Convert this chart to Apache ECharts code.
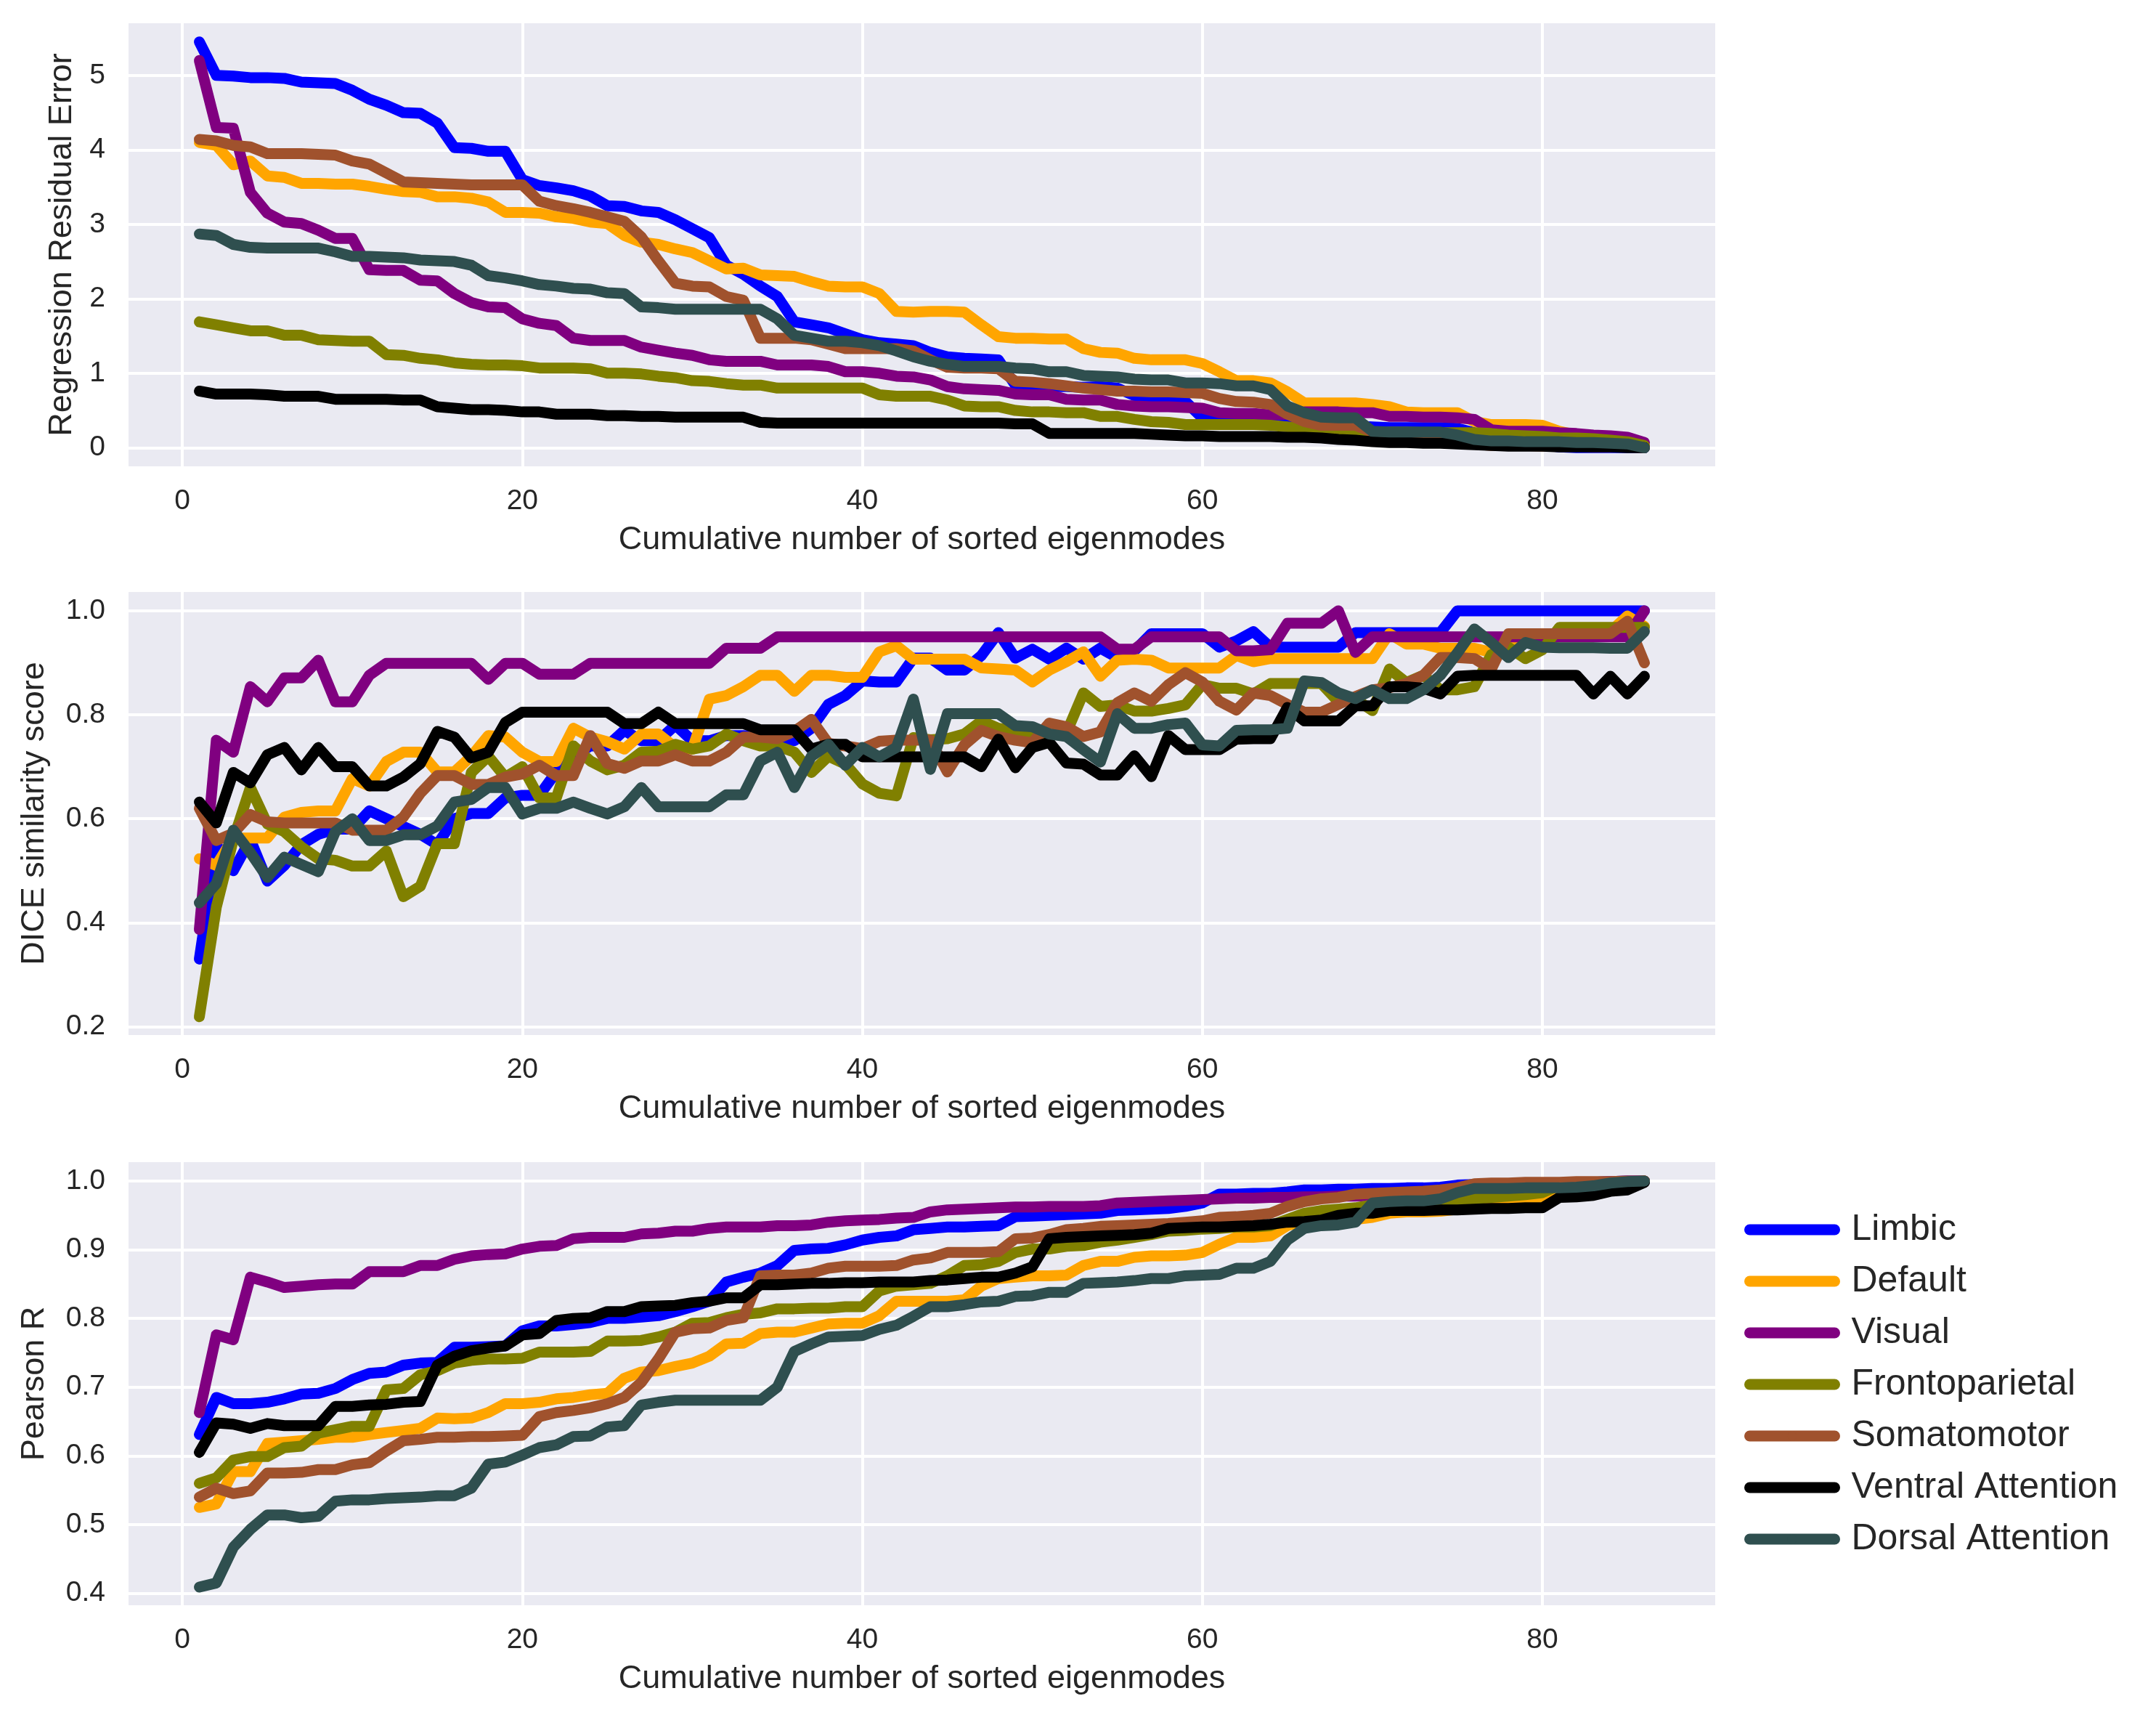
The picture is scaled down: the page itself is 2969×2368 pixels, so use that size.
<!DOCTYPE html>
<html>
<head>
<meta charset="utf-8">
<script src="https://cdn.jsdelivr.net/npm/echarts@6/dist/echarts.min.js"></script>
<style>
  html, body { margin: 0; padding: 0; background: #fff; }
  #chart { width: 2969px; height: 2368px; }
</style>
</head>
<body>
<div id="chart"></div>
<script>
// regions in legend order
const regionNames = ['Limbic', 'Default', 'Visual', 'Frontoparietal', 'Somatomotor', 'Ventral Attention', 'Dorsal Attention'];
const regionColors = ['#0000ff', '#ffa500', '#800080', '#808000', '#a0522d', '#000000', '#2f4f4f'];

// x: cumulative number of sorted eigenmodes (1..86)
const modes = [];
for (let i = 1; i <= 86; i++) modes.push(i);

// panel 1: regression residual error
const residualLimbic = [5.45,5.00,4.99,4.97,4.97,4.96,4.91,4.90,4.89,4.80, 4.68,4.60,4.50,4.49,4.36,4.03,4.02,3.98,3.98,3.60, 3.52,3.49,3.45,3.38,3.25,3.24,3.18,3.16,3.06,2.94, 2.82,2.45,2.33,2.17,2.03,1.69,1.65,1.61,1.53,1.45, 1.41,1.39,1.37,1.28,1.22,1.20,1.19,1.18,0.84,0.82, 0.82,0.82,0.81,0.82,0.80,0.70,0.63,0.62,0.62,0.40, 0.39,0.39,0.39,0.38,0.37,0.33,0.31,0.30,0.29,0.28, 0.27,0.27,0.27,0.27,0.26,0.20,0.15,0.12,0.08,0.04, 0.01,0.00,0.00,0.00,0.00,0.00];
const residualDefault = [4.10,4.06,3.80,3.85,3.65,3.63,3.55,3.55,3.54,3.54, 3.51,3.47,3.44,3.43,3.37,3.37,3.35,3.30,3.16,3.16, 3.15,3.10,3.08,3.03,3.01,2.85,2.76,2.73,2.67,2.62, 2.51,2.40,2.41,2.32,2.31,2.30,2.23,2.17,2.16,2.16, 2.07,1.83,1.82,1.83,1.83,1.82,1.65,1.49,1.47,1.47, 1.46,1.46,1.33,1.28,1.27,1.20,1.18,1.18,1.18,1.13, 1.02,0.90,0.90,0.87,0.75,0.60,0.60,0.60,0.60,0.58, 0.55,0.48,0.47,0.47,0.47,0.35,0.31,0.31,0.31,0.30, 0.22,0.17,0.13,0.10,0.06,0.02];
const residualVisual = [5.20,4.30,4.29,3.43,3.15,3.03,3.01,2.92,2.81,2.81, 2.39,2.38,2.38,2.25,2.24,2.07,1.95,1.89,1.88,1.73, 1.67,1.64,1.47,1.44,1.44,1.44,1.35,1.31,1.27,1.24, 1.18,1.16,1.16,1.16,1.11,1.11,1.11,1.09,1.02,1.02, 1.00,0.96,0.95,0.91,0.82,0.79,0.78,0.77,0.72,0.71, 0.71,0.65,0.64,0.64,0.58,0.56,0.55,0.55,0.54,0.53, 0.47,0.46,0.46,0.44,0.45,0.48,0.48,0.48,0.47,0.47, 0.42,0.42,0.41,0.41,0.40,0.38,0.24,0.22,0.22,0.22, 0.20,0.19,0.17,0.16,0.14,0.07];
const residualFronto = [1.69,1.65,1.61,1.57,1.57,1.51,1.51,1.45,1.44,1.43, 1.43,1.25,1.24,1.20,1.18,1.14,1.12,1.11,1.11,1.10, 1.07,1.07,1.07,1.06,1.00,1.00,0.99,0.96,0.94,0.90, 0.89,0.86,0.84,0.84,0.80,0.80,0.80,0.80,0.80,0.80, 0.71,0.69,0.69,0.69,0.64,0.56,0.55,0.55,0.50,0.48, 0.48,0.47,0.47,0.42,0.42,0.38,0.35,0.34,0.31,0.31, 0.31,0.31,0.31,0.30,0.28,0.25,0.22,0.21,0.21,0.21, 0.21,0.21,0.20,0.20,0.20,0.20,0.19,0.17,0.16,0.15, 0.13,0.13,0.12,0.10,0.08,0.03];
const residualSomato = [4.14,4.12,4.06,4.04,3.95,3.95,3.95,3.94,3.93,3.85, 3.81,3.69,3.57,3.56,3.55,3.54,3.53,3.53,3.53,3.53, 3.31,3.25,3.21,3.16,3.10,3.04,2.83,2.51,2.21,2.17, 2.16,2.03,1.98,1.47,1.47,1.47,1.45,1.39,1.33,1.33, 1.33,1.33,1.30,1.18,1.08,1.07,1.07,1.06,0.89,0.88, 0.86,0.83,0.80,0.78,0.76,0.76,0.75,0.75,0.74,0.73, 0.66,0.62,0.61,0.58,0.45,0.35,0.30,0.30,0.30,0.21, 0.19,0.17,0.15,0.13,0.09,0.05,0.03,0.03,0.03,0.02, 0.02,0.02,0.01,0.01,0.01,0.00];
const residualVentral = [0.76,0.72,0.72,0.72,0.71,0.69,0.69,0.69,0.65,0.65, 0.65,0.65,0.64,0.64,0.55,0.53,0.51,0.51,0.50,0.48, 0.48,0.45,0.45,0.45,0.43,0.43,0.42,0.42,0.41,0.41, 0.41,0.41,0.41,0.34,0.33,0.33,0.33,0.33,0.33,0.33, 0.33,0.33,0.33,0.33,0.33,0.33,0.33,0.33,0.32,0.32, 0.19,0.19,0.19,0.19,0.19,0.19,0.18,0.17,0.16,0.16, 0.15,0.15,0.15,0.15,0.14,0.14,0.13,0.11,0.10,0.08, 0.07,0.07,0.06,0.06,0.05,0.04,0.03,0.02,0.02,0.02, 0.01,0.01,0.01,0.01,0.00,0.00];
const residualDorsal = [2.87,2.85,2.73,2.69,2.68,2.68,2.68,2.68,2.63,2.57, 2.57,2.56,2.55,2.52,2.51,2.50,2.45,2.31,2.28,2.24, 2.19,2.17,2.14,2.13,2.08,2.07,1.89,1.88,1.86,1.86, 1.86,1.86,1.86,1.86,1.73,1.51,1.47,1.43,1.43,1.41, 1.37,1.30,1.22,1.16,1.12,1.09,1.09,1.09,1.07,1.06, 1.02,1.02,0.97,0.96,0.95,0.92,0.91,0.91,0.87,0.87, 0.86,0.83,0.83,0.78,0.56,0.47,0.41,0.40,0.40,0.22, 0.21,0.21,0.21,0.21,0.17,0.11,0.09,0.09,0.08,0.08, 0.08,0.07,0.07,0.06,0.05,0.00];

// panel 2: DICE similarity score
const diceLimbic = [0.33,0.55,0.50,0.56,0.48,0.51,0.55,0.57,0.58,0.58, 0.615,0.60,0.585,0.57,0.55,0.60,0.61,0.61,0.64,0.645, 0.645,0.69,0.72,0.74,0.74,0.77,0.75,0.75,0.78,0.75, 0.75,0.76,0.76,0.757,0.75,0.75,0.774,0.82,0.837,0.865, 0.863,0.863,0.909,0.909,0.886,0.886,0.914,0.958,0.909,0.926, 0.907,0.928,0.907,0.928,0.91,0.923,0.956,0.956,0.956,0.956, 0.93,0.942,0.96,0.93,0.93,0.93,0.93,0.93,0.958,0.958, 0.958,0.958,0.958,0.958,1.0,1.0,1.0,1.0,1.0,1.0, 1.0,1.0,1.0,1.0,1.0,1.0];
const diceDefault = [0.523,0.51,0.563,0.563,0.563,0.603,0.612,0.615,0.615,0.677, 0.663,0.71,0.728,0.728,0.69,0.69,0.72,0.76,0.757,0.728, 0.71,0.71,0.774,0.757,0.748,0.734,0.763,0.763,0.737,0.734, 0.83,0.837,0.854,0.876,0.876,0.845,0.876,0.876,0.872,0.872, 0.921,0.933,0.907,0.907,0.907,0.907,0.89,0.888,0.886,0.863, 0.886,0.902,0.921,0.874,0.905,0.907,0.905,0.89,0.89,0.89, 0.89,0.914,0.902,0.908,0.908,0.908,0.908,0.908,0.908,0.908, 0.956,0.936,0.936,0.928,0.928,0.928,0.92,0.94,0.95,0.95, 0.95,0.95,0.95,0.96,0.99,0.97];
const diceVisual = [0.387,0.751,0.728,0.854,0.825,0.871,0.871,0.905,0.825,0.825, 0.876,0.899,0.899,0.899,0.899,0.899,0.899,0.868,0.899,0.899, 0.878,0.878,0.878,0.899,0.899,0.899,0.899,0.899,0.899,0.899, 0.899,0.928,0.928,0.928,0.95,0.95,0.95,0.95,0.95,0.95, 0.95,0.95,0.95,0.95,0.95,0.95,0.95,0.95,0.95,0.95, 0.95,0.95,0.95,0.95,0.926,0.926,0.95,0.95,0.95,0.95, 0.95,0.923,0.923,0.925,0.976,0.976,0.976,1.0,0.92,0.95, 0.95,0.95,0.95,0.95,0.95,0.95,0.95,0.95,0.95,0.95, 0.95,0.95,0.95,0.95,0.95,1.0];
const diceFronto = [0.219,0.43,0.56,0.66,0.59,0.575,0.546,0.523,0.52,0.509, 0.509,0.538,0.45,0.47,0.552,0.552,0.689,0.72,0.68,0.70, 0.64,0.64,0.74,0.711,0.694,0.703,0.728,0.73,0.743,0.734, 0.74,0.763,0.75,0.74,0.74,0.728,0.689,0.72,0.705,0.667, 0.649,0.644,0.756,0.752,0.754,0.763,0.788,0.774,0.77,0.765, 0.76,0.765,0.842,0.816,0.819,0.807,0.807,0.812,0.819,0.858, 0.851,0.851,0.84,0.86,0.86,0.86,0.86,0.825,0.83,0.808, 0.888,0.862,0.876,0.848,0.848,0.854,0.916,0.93,0.908,0.925, 0.968,0.968,0.968,0.968,0.968,0.968];
const diceSomato = [0.62,0.558,0.572,0.608,0.594,0.592,0.592,0.592,0.592,0.578, 0.578,0.578,0.603,0.649,0.683,0.683,0.666,0.666,0.68,0.686, 0.703,0.683,0.683,0.76,0.706,0.697,0.711,0.711,0.723,0.711, 0.711,0.728,0.757,0.757,0.754,0.768,0.791,0.745,0.74,0.735, 0.749,0.751,0.751,0.751,0.69,0.742,0.77,0.758,0.751,0.746, 0.784,0.777,0.758,0.767,0.823,0.842,0.826,0.858,0.881,0.863, 0.826,0.809,0.842,0.837,0.82,0.805,0.805,0.82,0.835,0.848, 0.852,0.86,0.876,0.91,0.91,0.908,0.888,0.956,0.956,0.956, 0.956,0.956,0.956,0.956,0.98,0.9];
const diceVentral = [0.632,0.592,0.689,0.669,0.723,0.737,0.694,0.737,0.70,0.70, 0.663,0.663,0.68,0.706,0.768,0.757,0.717,0.728,0.785,0.805, 0.805,0.805,0.805,0.805,0.805,0.783,0.783,0.805,0.783,0.783, 0.783,0.783,0.783,0.771,0.771,0.771,0.734,0.743,0.743,0.719, 0.719,0.719,0.719,0.719,0.719,0.719,0.70,0.753,0.698,0.737, 0.747,0.707,0.705,0.684,0.684,0.721,0.681,0.76,0.733,0.733, 0.733,0.753,0.754,0.754,0.814,0.788,0.788,0.788,0.817,0.817, 0.854,0.854,0.851,0.84,0.874,0.876,0.876,0.876,0.876,0.876, 0.876,0.876,0.84,0.874,0.84,0.874];
const diceDorsal = [0.438,0.475,0.578,0.535,0.487,0.526,0.512,0.498,0.575,0.60, 0.558,0.558,0.569,0.569,0.586,0.632,0.637,0.66,0.66,0.609, 0.62,0.62,0.632,0.62,0.609,0.623,0.66,0.623,0.623,0.623, 0.623,0.646,0.646,0.711,0.728,0.66,0.72,0.743,0.703,0.737, 0.719,0.737,0.83,0.695,0.802,0.802,0.802,0.802,0.779,0.777, 0.763,0.758,0.733,0.709,0.802,0.774,0.774,0.781,0.784,0.742, 0.74,0.77,0.771,0.771,0.774,0.865,0.862,0.842,0.831,0.848, 0.831,0.831,0.848,0.876,0.919,0.965,0.939,0.91,0.939,0.93, 0.929,0.929,0.929,0.928,0.928,0.96];

// panel 3: Pearson R
const pearsonLimbic = [0.631,0.685,0.676,0.676,0.678,0.683,0.69,0.691,0.698,0.711, 0.72,0.722,0.732,0.735,0.736,0.758,0.758,0.759,0.76,0.782, 0.789,0.789,0.791,0.794,0.80,0.80,0.802,0.804,0.81,0.817, 0.825,0.853,0.86,0.866,0.877,0.899,0.901,0.902,0.907,0.914, 0.918,0.92,0.929,0.931,0.933,0.933,0.934,0.935,0.948,0.949, 0.95,0.951,0.952,0.953,0.957,0.958,0.959,0.96,0.963,0.968, 0.981,0.981,0.982,0.982,0.984,0.987,0.987,0.988,0.988,0.989, 0.989,0.99,0.99,0.991,0.994,0.995,0.995,0.996,0.996,0.996, 0.997,0.998,0.998,0.999,1.0,1.0];
const pearsonDefault = [0.525,0.53,0.577,0.577,0.618,0.62,0.622,0.624,0.627,0.627, 0.631,0.634,0.637,0.64,0.655,0.654,0.655,0.663,0.676,0.676, 0.678,0.683,0.685,0.689,0.691,0.713,0.722,0.724,0.73,0.735, 0.745,0.763,0.764,0.778,0.78,0.78,0.786,0.792,0.793,0.793, 0.804,0.825,0.825,0.825,0.825,0.827,0.847,0.858,0.86,0.862, 0.862,0.863,0.877,0.883,0.883,0.889,0.891,0.891,0.892,0.896, 0.908,0.918,0.918,0.92,0.935,0.942,0.942,0.942,0.944,0.947, 0.953,0.955,0.955,0.956,0.959,0.963,0.963,0.965,0.966,0.968, 0.983,0.985,0.988,0.991,0.994,1.0];
const pearsonVisual = [0.663,0.776,0.769,0.86,0.853,0.845,0.847,0.849,0.85,0.85, 0.868,0.868,0.868,0.877,0.877,0.886,0.891,0.893,0.894,0.901, 0.905,0.906,0.916,0.918,0.918,0.918,0.923,0.924,0.927,0.927, 0.931,0.933,0.933,0.933,0.935,0.935,0.936,0.94,0.942,0.943, 0.944,0.946,0.947,0.955,0.958,0.959,0.96,0.961,0.962,0.962, 0.963,0.963,0.963,0.964,0.968,0.969,0.97,0.971,0.972,0.973, 0.974,0.975,0.975,0.976,0.976,0.977,0.977,0.978,0.978,0.979, 0.98,0.981,0.982,0.983,0.985,0.987,0.99,0.992,0.994,0.995, 0.996,0.997,0.998,0.999,1.0,1.0];
const pearsonFronto = [0.56,0.568,0.594,0.599,0.599,0.612,0.614,0.633,0.638,0.643, 0.643,0.696,0.698,0.718,0.724,0.735,0.739,0.741,0.741,0.742, 0.751,0.751,0.751,0.752,0.767,0.767,0.768,0.773,0.78,0.793, 0.794,0.801,0.806,0.808,0.814,0.814,0.815,0.815,0.817,0.817, 0.84,0.847,0.849,0.851,0.862,0.877,0.878,0.883,0.896,0.901, 0.901,0.905,0.906,0.911,0.914,0.918,0.922,0.927,0.928,0.93, 0.931,0.933,0.933,0.935,0.944,0.953,0.957,0.959,0.961,0.965, 0.966,0.966,0.967,0.969,0.972,0.974,0.976,0.978,0.98,0.983, 0.994,0.994,0.995,0.996,0.998,1.0];
const pearsonSomato = [0.54,0.553,0.545,0.549,0.575,0.575,0.576,0.58,0.58,0.587, 0.59,0.607,0.622,0.624,0.627,0.627,0.628,0.628,0.629,0.63, 0.657,0.663,0.666,0.67,0.676,0.685,0.707,0.741,0.78,0.785, 0.786,0.797,0.801,0.862,0.863,0.863,0.866,0.873,0.876,0.876, 0.876,0.877,0.885,0.888,0.896,0.896,0.896,0.897,0.916,0.917, 0.922,0.929,0.931,0.934,0.935,0.936,0.937,0.938,0.94,0.942, 0.947,0.948,0.95,0.953,0.963,0.97,0.974,0.976,0.981,0.982, 0.983,0.984,0.985,0.987,0.99,0.996,0.997,0.997,0.998,0.998, 0.998,0.999,0.999,0.999,1.0,1.0];
const pearsonVentral = [0.605,0.648,0.646,0.64,0.647,0.644,0.644,0.644,0.672,0.672, 0.674,0.675,0.678,0.679,0.732,0.745,0.753,0.757,0.76,0.776, 0.778,0.797,0.80,0.801,0.81,0.81,0.817,0.818,0.819,0.823, 0.825,0.83,0.83,0.849,0.849,0.85,0.851,0.851,0.852,0.852, 0.853,0.853,0.853,0.855,0.856,0.858,0.86,0.86,0.866,0.875, 0.916,0.918,0.919,0.92,0.921,0.922,0.924,0.931,0.932,0.933, 0.933,0.934,0.935,0.937,0.94,0.941,0.943,0.95,0.953,0.953, 0.957,0.957,0.957,0.958,0.958,0.959,0.96,0.96,0.961,0.961, 0.976,0.977,0.979,0.985,0.987,0.998];
const pearsonDorsal = [0.409,0.415,0.467,0.493,0.514,0.514,0.51,0.512,0.534,0.536, 0.536,0.538,0.539,0.54,0.542,0.542,0.553,0.588,0.591,0.601, 0.612,0.616,0.628,0.629,0.642,0.644,0.674,0.678,0.681,0.681, 0.681,0.681,0.681,0.681,0.70,0.752,0.763,0.773,0.774,0.775, 0.784,0.79,0.803,0.817,0.817,0.82,0.824,0.825,0.832,0.833, 0.838,0.838,0.851,0.852,0.853,0.855,0.858,0.858,0.862,0.863, 0.864,0.873,0.873,0.883,0.914,0.931,0.935,0.936,0.94,0.968, 0.97,0.971,0.971,0.974,0.983,0.989,0.989,0.989,0.99,0.99, 0.99,0.991,0.993,0.997,0.999,1.0];

const panels = [
  { ylabel: 'Regression Residual Error', ymin: -0.27, ymax: 5.72, digits: 0, nameGap: 67, top: 30,
    values: [residualLimbic, residualDefault, residualVisual, residualFronto, residualSomato, residualVentral, residualDorsal] },
  { ylabel: 'DICE similarity score', ymin: 0.181, ymax: 1.039, digits: 1, nameGap: 105, top: 813,
    values: [diceLimbic, diceDefault, diceVisual, diceFronto, diceSomato, diceVentral, diceDorsal] },
  { ylabel: 'Pearson R', ymin: 0.3805, ymax: 1.0295, digits: 1, nameGap: 105, top: 1598,
    values: [pearsonLimbic, pearsonDefault, pearsonVisual, pearsonFronto, pearsonSomato, pearsonVentral, pearsonDorsal] }
];

const font = "'Liberation Sans', Arial, sans-serif";
const textColor = '#262626';

let grids = [], xAxes = [], yAxes = [], series = [];
panels.forEach((p, k) => {
  grids.push({ left: 175, width: 2189, top: p.top, height: 614, show: true,
    backgroundColor: '#eaeaf2', borderWidth: 0 });
  xAxes.push({
    type: 'value', gridIndex: k, min: -3.25, max: 90.25,
    name: 'Cumulative number of sorted eigenmodes', nameLocation: 'middle', nameGap: 77,
    nameTextStyle: { fontSize: 45, color: textColor, fontFamily: font },
    axisLine: { show: false }, axisTick: { show: false },
    axisLabel: { fontSize: 39, color: textColor, fontFamily: font, margin: 27,
      showMinLabel: false, showMaxLabel: false },
    splitLine: { show: true, lineStyle: { color: '#ffffff', width: 4 } }
  });
  yAxes.push({
    type: 'value', gridIndex: k, min: p.ymin, max: p.ymax,
    name: p.ylabel, nameLocation: 'middle', nameGap: p.nameGap, nameRotate: 90,
    nameTextStyle: { fontSize: 45, color: textColor, fontFamily: font },
    axisLine: { show: false }, axisTick: { show: false },
    axisLabel: { fontSize: 39, color: textColor, fontFamily: font, margin: 30,
      showMinLabel: false, showMaxLabel: false,
      formatter: v => v.toFixed(p.digits) },
    splitLine: { show: true, lineStyle: { color: '#ffffff', width: 4 } }
  });
  p.values.forEach((vals, r) => {
    series.push({
      type: 'line', name: regionNames[r], xAxisIndex: k, yAxisIndex: k,
      data: modes.map((m, i) => [m, vals[i]]),
      showSymbol: false, symbol: 'circle', symbolSize: 4,
      color: regionColors[r],
      lineStyle: { width: 15, color: regionColors[r], cap: 'round', join: 'round' },
      emphasis: { disabled: true },
      animation: false
    });
  });
});

const chart = echarts.init(document.getElementById('chart'), null, { renderer: 'canvas' });
chart.setOption({
  backgroundColor: '#ffffff',
  animation: false,
  grid: grids,
  xAxis: xAxes,
  yAxis: yAxes,
  legend: {
    data: regionNames, orient: 'vertical', left: 2402, top: 1668, padding: 0,
    itemWidth: 117, itemHeight: 16, itemGap: 21,
    lineStyle: { width: 15, cap: 'round' },
    textStyle: { fontSize: 50, lineHeight: 50, color: textColor, fontFamily: font, padding: [0, 0, 0, 18] }
  },
  series: series
});
</script>
</body>
</html>
